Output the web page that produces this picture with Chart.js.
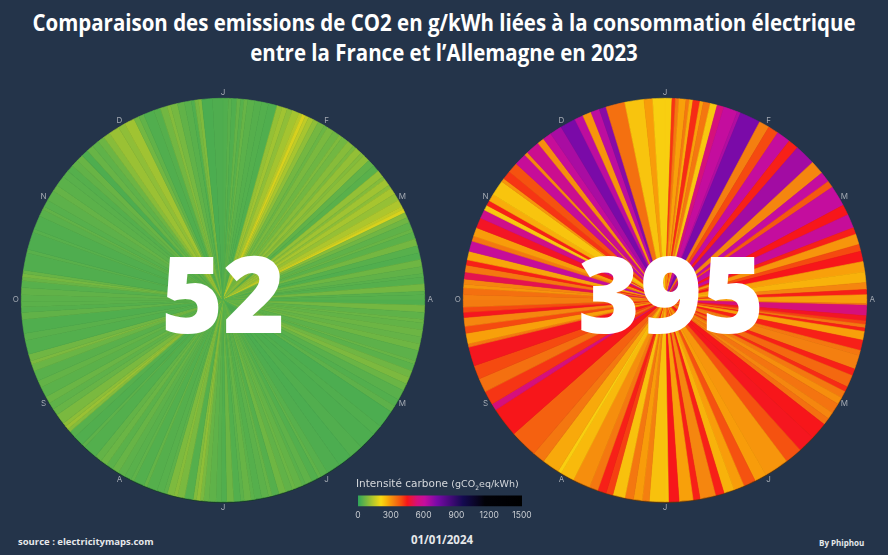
<!DOCTYPE html>
<html lang="fr">
<head>
<meta charset="utf-8">
<title>CO2 France Allemagne 2023</title>
<script src="https://cdn.jsdelivr.net/npm/chart.js@4"></script>
<style>
    html, body { margin: 0; padding: 0; background: #24344a; }
    #page { position: relative; width: 888px; height: 555px; overflow: hidden; background: #24344a; color: #fff; font-family: "Open Sans", sans-serif; }
    #page canvas { position: absolute; }
    .txt { position: absolute; white-space: nowrap; }
    #title { left: -100px; width: 1088px; top: 7px; text-align: center; font-weight: 700; font-size: 23px; line-height: 30px; transform: scaleX(0.89); }
    .big { top: 224px; width: 300px; text-align: center; font-weight: 800; font-size: 106px; line-height: 136px; }
    #scaleTitle { left: 356px; top: 476px; font-family: "DejaVu Sans", sans-serif; font-size: 10.5px; line-height: 14px; color: #d5d8dc; }
    #scaleTitle small { font-size: 9.5px; }
    #scaleTitle sub { font-size: 6px; line-height: 0; }
    #source { left: 18px; top: 535px; font-weight: 700; font-size: 9.5px; line-height: 14px; color: #e6e8ea; }
    #date { left: 382px; width: 120px; top: 532px; text-align: center; font-weight: 700; font-size: 11.5px; line-height: 16px; color: #e6e8ea; }
    #by { left: 819px; top: 536px; font-weight: 700; font-size: 8px; line-height: 14px; color: #e6e8ea; }
</style>
</head>
<body>
<div id="page">
    <canvas id="frChart" width="444" height="444" style="left:1px;top:78px"></canvas>
    <canvas id="deChart" width="444" height="444" style="left:443px;top:78px"></canvas>
    <canvas id="scaleChart" width="204" height="30" style="left:338px;top:493px"></canvas>

    <div id="title" class="txt">Comparaison des emissions de CO2 en g/kWh liées à la consommation électrique<br>entre la France et l’Allemagne en 2023</div>
    <div class="txt big" style="left:73px">52</div>
    <div class="txt big" style="left:521px">395</div>
    <div id="scaleTitle" class="txt">Intensité carbone <small>(gCO<sub>2</sub>eq/kWh)</small></div>
    <div id="source" class="txt">source : electricitymaps.com</div>
    <div id="date" class="txt">01/01/2024</div>
    <div id="by" class="txt">By Phiphou</div>
</div>

<script>
// months around the circles, clockwise from the top
const months = ['J', 'F', 'M', 'A', 'M', 'J', 'J', 'A', 'S', 'O', 'N', 'D'];

// France: length of each stripe in days, and its gCO2eq/kWh
const frDays = [
    1.5, 1, 1.5, 1, 1, 1, 2, 2, 2, 2.5, 1.5, 1.5, 1.5, 2, 1, 1, 1, 1.5, 1.5,
    2, 1, 2, 2, 1, 2, 2, 1, 2, 1, 2, 2, 2, 2, 1, 2, 1, 2, 2, 2, 1, 1, 1.5, 1.5,
    2, 1, 2, 2, 2, 2, 2, 2, 1, 2, 2, 1,
    1.5, 1.5, 2, 2, 1, 2, 2, 2, 2, 3, 1, 2, 2, 2, 2, 3, 2, 2, 5, 3, 5, 4, 4, 4,
    2, 1, 2, 2, 1, 2, 1, 2, 2, 2, 1, 2, 2, 1, 2, 1, 2, 2,
    1.5, 1.5, 2, 1.5, 1, 1, 1, 2.5, 2, 1, 2, 1, 2, 3, 1, 3, 1, 2, 2, 2, 2, 2, 2, 4, 1, 3, 2,
    1, 1, 1, 3, 2, 2, 2, 3, 2, 3, 2, 1, 2, 4, 2, 4, 2, 1.5, 1.5,
    2, 2, 2, 1, 1, 1, 5, 1, 5, 1, 4, 2, 1, 2, 3, 2, 3, 2, 2, 2, 2, 2, 2, 2, 2, 2, 3, 2, 3, 1.5, 1.5, 3, 2, 2, 1, 2, 2, 2, 1, 1, 1, 3, 3
];
const frValues = [
    36, 44, 36, 55, 42, 58, 46, 40, 38, 34, 105, 118, 100, 122, 140, 175, 150, 125, 100,
    72, 62, 78, 66, 84, 70, 92, 78, 104, 88, 98, 52, 44, 105, 88, 118, 96, 125, 108, 132, 150, 178, 92, 68,
    50, 60, 46, 72, 42, 36, 66, 52, 44, 40, 72, 44,
    42, 36, 72, 50, 62, 54, 64, 56, 66, 48, 58, 46, 68, 80, 62, 44, 38, 48, 30, 34, 31, 36, 30, 33,
    42, 50, 38, 50, 44, 54, 62, 52, 66, 40, 56, 48, 40, 46, 58, 48, 38, 64,
    36, 42, 50, 58, 78, 100, 86, 40, 78, 92, 82, 48, 42, 40, 54, 38, 50, 44, 48, 58, 46, 62, 54, 38, 48, 36, 42,
    90, 112, 98, 78, 58, 50, 62, 46, 54, 44, 62, 80, 68, 38, 44, 34, 52, 40, 46,
    46, 52, 42, 60, 74, 60, 36, 44, 33, 42, 35, 44, 52, 42, 48, 56, 46, 44, 40, 52, 60, 32, 58, 50, 64, 92, 112, 100, 118, 70, 52, 36, 40, 70, 88, 74, 52, 44, 36, 70, 84, 30, 33
];

// Germany: same reading, clockwise from the top
const deDays = [
    2, 1, 1, 2, 1, 1, 2, 1, 2, 2, 2, 4, 1, 6, 3, 3, 4, 3, 6, 4, 3, 2, 6, 3, 4, 2, 3, 2, 3, 3, 3, 2, 1.5, 1.5,
    1, 0.5, 3, 1.5, 1, 1, 1, 2.5, 3, 1.5, 4, 2, 3.5, 1.5, 2, 2, 3, 2, 2, 5, 5, 5, 7, 3.5, 3.5, 3, 3, 2.5, 4.5, 2, 4, 3, 1,
    4.5, 2, 2.5, 2.5, 3.5, 2, 2.5, 2.5, 5, 4, 1, 5, 3.5, 8, 8.5, 2, 4, 4, 4, 5.5, 1, 3, 2, 2.5, 1.5, 1.5, 2,
    1.5, 2, 1, 1.5, 2, 2, 1.5, 2.5, 3, 1.5, 2.5, 3, 2.5, 1.5, 1.5, 2, 4.5, 1, 2.5, 3, 3.5, 1, 4, 2, 2.5, 3.5, 4.5, 2.5, 2.5, 2.5, 2, 5.5, 5.5, 2.5, 3.5
];
const deValues = [
    225, 420, 340, 285, 340, 270, 430, 285, 340, 235, 540, 610, 640, 720, 330, 400, 610, 440, 660, 320, 610, 380, 610, 450, 600, 440, 300, 400, 450, 285, 265, 320, 440, 285,
    285, 340, 540, 460, 410, 340, 440, 285, 440, 340, 330, 440, 360, 430, 340, 310, 345, 320, 350, 450, 455, 390, 300, 290, 390, 290, 265, 440, 320, 440, 285, 450, 240,
    245, 330, 290, 340, 245, 410, 440, 340, 310, 255, 225, 275, 340, 370, 450, 540, 420, 350, 400, 455, 340, 285, 400, 320, 455, 400, 335,
    330, 350, 300, 320, 500, 340, 440, 280, 600, 340, 290, 460, 570, 235, 440, 270, 240, 300, 420, 390, 600, 320, 580, 310, 600, 650, 720, 620, 300, 620, 700, 350, 240, 290, 225
];

// colour scale of the legend
const scaleValues = [0, 210, 260, 290, 330, 400, 450, 540, 610, 720, 960, 1160, 1500];
const scaleColors = ['#2fa55a', '#f8da12', '#f8b60b', '#f89c0a', '#f47f10', '#f54a10', '#f7161a', '#d5107c', '#c40d9e', '#7a0aa8', '#140a50', '#020208', '#000000'];
const scaleTicks = [0, 300, 600, 900, 1200, 1500];

function hexToRgb(hex) {
    return [1, 3, 5].map(i => parseInt(hex.substr(i, 2), 16));
}

function colorFor(value) {
    let i = 1;
    while (i < scaleValues.length - 1 && value > scaleValues[i]) i++;
    const t = Math.min(1, (value - scaleValues[i - 1]) / (scaleValues[i] - scaleValues[i - 1]));
    const a = hexToRgb(scaleColors[i - 1]);
    const b = hexToRgb(scaleColors[i]);
    const c = a.map((v, k) => Math.round(v + (b[k] - v) * t));
    return `rgb(${c[0]},${c[1]},${c[2]})`;
}

// month letters just outside the rim, and the thin dark edge under the disc
function rimPlugin(rimColor) {
    return {
        id: 'rim',
        beforeDatasetsDraw(chart) {
            const arc = chart.getDatasetMeta(0).data[0];
            const c = chart.ctx;
            c.save();
            c.fillStyle = rimColor;
            c.beginPath();
            c.arc(arc.x, arc.y + 1.2, arc.outerRadius, 0, Math.PI * 2);
            c.fill();
            c.restore();
        },
        afterDraw(chart) {
            const arc = chart.getDatasetMeta(0).data[0];
            const c = chart.ctx;
            c.save();
            c.fillStyle = '#a3a9b2';
            c.font = '8px Inter, sans-serif';
            c.textAlign = 'center';
            c.textBaseline = 'middle';
            months.forEach((m, i) => {
                const a = i * Math.PI / 6;
                const r = arc.outerRadius + 5.5;
                c.fillText(m, arc.x + r * Math.sin(a), arc.y - r * Math.cos(a));
            });
            c.restore();
        }
    };
}

function stripeChart(id, days, values, rimColor) {
    const colors = values.map(colorFor);
    return new Chart(document.querySelector(id), {
        type: 'pie',
        data: {
            labels: values.map(String),
            datasets: [{
                data: days,
                backgroundColor: colors,
                borderColor: colors,
                borderWidth: 0.6
            }]
        },
        options: {
            responsive: false,
            animation: false,
            events: [],
            layout: { padding: 20 },
            plugins: { legend: { display: false }, tooltip: { enabled: false } }
        },
        plugins: [rimPlugin(rimColor)]
    });
}

stripeChart('#frChart', frDays, frValues, '#143c28');
stripeChart('#deChart', deDays, deValues, '#5a3512');

// legend bar
new Chart(document.querySelector('#scaleChart'), {
    type: 'bar',
    data: {
        labels: ['gCO2eq/kWh'],
        datasets: [{
            data: [scaleValues[scaleValues.length - 1]],
            barThickness: 10,
            backgroundColor(ctx) {
                const area = ctx.chart.chartArea;
                if (!area) return '#000';
                const g = ctx.chart.ctx.createLinearGradient(area.left, 0, area.right, 0);
                scaleValues.forEach((v, i) => g.addColorStop(v / 1500, scaleColors[i]));
                return g;
            }
        }]
    },
    options: {
        indexAxis: 'y',
        responsive: false,
        animation: false,
        events: [],
        layout: { padding: { left: 20, right: 20, top: 0, bottom: 0 } },
        scales: {
            x: {
                min: 0,
                max: 1500,
                grid: { display: false, drawTicks: false },
                border: { display: false },
                afterBuildTicks(axis) { axis.ticks = scaleTicks.map(v => ({ value: v })); },
                ticks: {
                    color: '#c9cdd2',
                    font: { family: 'Inter', size: 8.5 },
                    padding: 2,
                    maxRotation: 0,
                    autoSkip: false,
                    callback: v => String(v)
                }
            },
            y: { display: false }
        },
        plugins: { legend: { display: false }, tooltip: { enabled: false } }
    }
});
</script>
</body>
</html>
